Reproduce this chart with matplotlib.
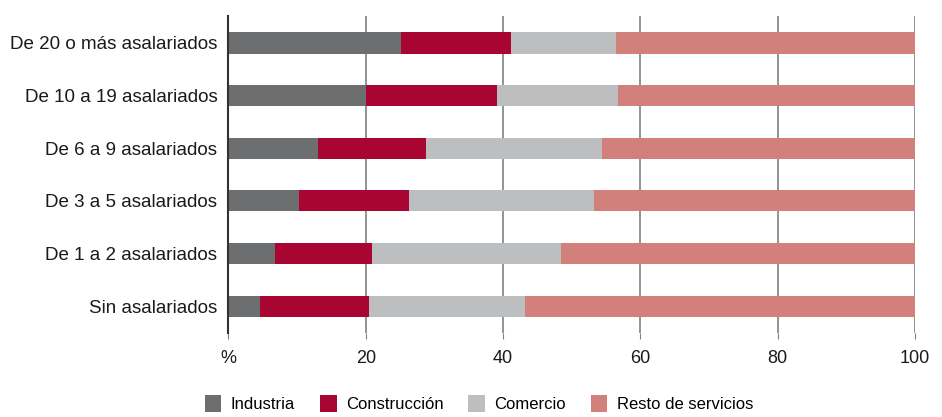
import matplotlib
matplotlib.use('Agg')
import matplotlib.pyplot as plt
import numpy as np

# Distribution (%) by sector for each company size
categories = ['De 20 o más asalariados', 'De 10 a 19 asalariados', 'De 6 a 9 asalariados',
              'De 3 a 5 asalariados', 'De 1 a 2 asalariados', 'Sin asalariados']
industria = [25.1, 20.0, 13.0, 10.3, 6.8, 4.6]
construccion = [16.1, 19.1, 15.8, 16.0, 14.1, 15.9]
comercio = [15.3, 17.6, 25.6, 27.0, 27.5, 22.7]
resto = [43.5, 43.3, 45.6, 46.7, 51.6, 56.8]

series = [('Industria', industria, '#6d6e70'),
          ('Construcción', construccion, '#a80532'),
          ('Comercio', comercio, '#bdbec0'),
          ('Resto de servicios', resto, '#d2807c')]

plt.rcParams['font.family'] = ['Liberation Sans', 'DejaVu Sans']

fig = plt.figure(figsize=(9.42, 4.17), dpi=100)
ax = fig.add_axes([0.2425, 0.2014, 0.7288, 0.7602])

y = np.arange(len(categories))
left = np.zeros(len(categories))
handles = []
for name, vals, color in series:
    vals = np.array(vals)
    b = ax.barh(y, vals, left=left, height=0.4, color=color, label=name, zorder=2)
    handles.append(b)
    left += vals

ax.set_xlim(0, 100)
ax.set_ylim(len(categories) - 0.487, -0.513)
ax.set_yticks(y)
ax.set_yticklabels(categories, fontsize=13.5, color='#1a1a1a')
ax.set_xticks([0, 20, 40, 60, 80, 100])
ax.set_xticklabels(['%', '20', '40', '60', '80', '100'], fontsize=13, color='#1a1a1a')
ax.tick_params(axis='y', length=0, pad=8)
ax.tick_params(axis='x', length=4, color='#808080', pad=8)
ax.grid(axis='x', color='#808080', linewidth=1.2, zorder=0)
ax.set_axisbelow(True)
for s in ['top', 'right', 'bottom']:
    ax.spines[s].set_visible(False)
ax.spines['left'].set_color('#333333')
ax.spines['left'].set_linewidth(1.5)

fig.legend(handles=handles, loc='lower left', bbox_to_anchor=(0.2015, -0.025), ncol=4,
           frameon=False, fontsize=12, handlelength=1.0, handleheight=1.2,
           handletextpad=0.55, columnspacing=1.5)

fig.savefig('out.png', dpi=100)
